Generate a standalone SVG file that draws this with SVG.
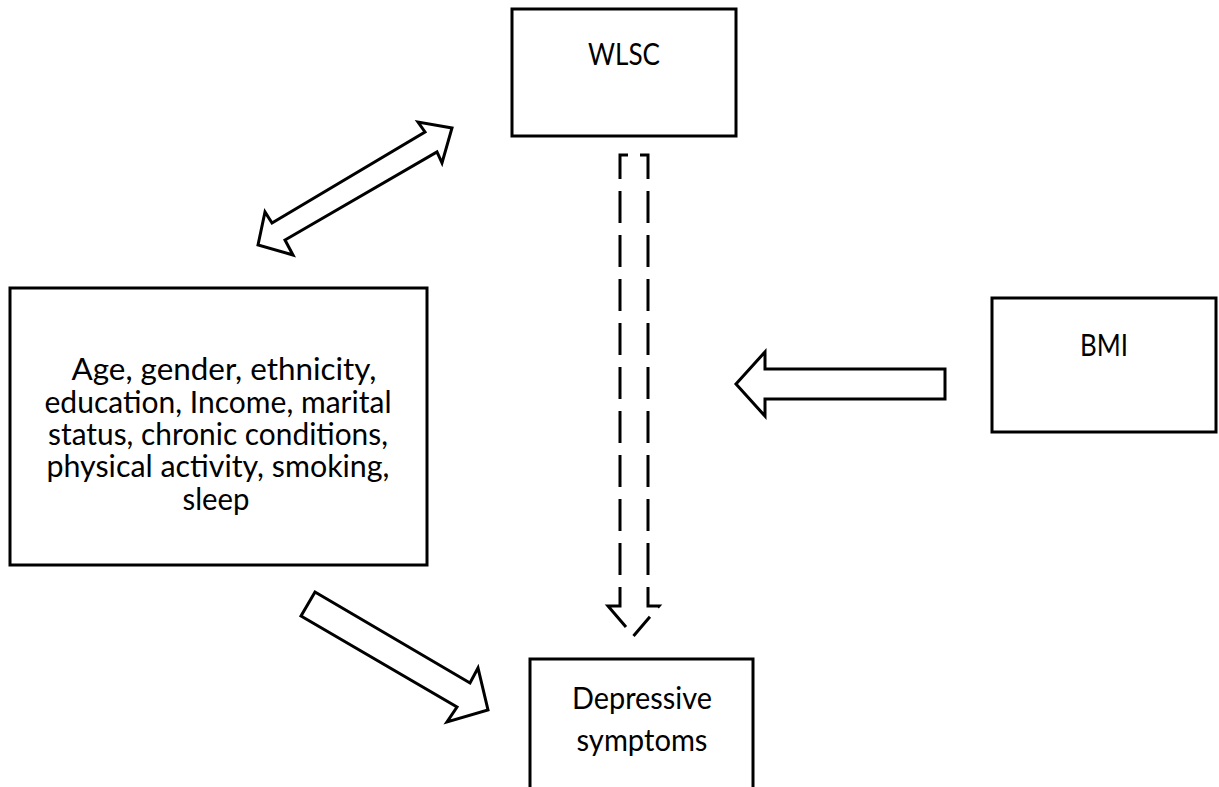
<svg xmlns="http://www.w3.org/2000/svg" width="1219" height="787" viewBox="0 0 1219 787">
  <style>
    .box { fill: #ffffff; stroke: #000000; stroke-width: 3; }
    .label { font-family: Lato, "Liberation Sans", sans-serif; font-size: 30px; fill: #000000; text-anchor: middle; }
    .block { fill: #ffffff; stroke: #000000; stroke-width: 3; stroke-linejoin: miter; }
    .dashed { fill: none; stroke: #000000; stroke-width: 3; stroke-dasharray: 32 12; stroke-dashoffset: 38; stroke-linejoin: miter; }
    .solid { fill: none; stroke: #000000; stroke-width: 3; stroke-linejoin: miter; }
  </style>
  <rect width="1219" height="787" fill="#ffffff"/>

  <g id="wlsc">
    <rect class="box" x="512" y="9" width="224" height="127"/>
    <text class="label" x="624" y="65" textLength="72" lengthAdjust="spacingAndGlyphs">WLSC</text>
  </g>

  <g id="covariates">
    <rect class="box" x="10" y="288" width="417" height="277"/>
    <text class="label" x="224" y="380" textLength="305" lengthAdjust="spacingAndGlyphs">Age, gender, ethnicity,</text>
    <text class="label" x="218" y="413" textLength="347" lengthAdjust="spacingAndGlyphs">education, Income, marital</text>
    <text class="label" x="218" y="445" textLength="340" lengthAdjust="spacingAndGlyphs">status, chronic conditions,</text>
    <text class="label" x="218" y="477" textLength="343" lengthAdjust="spacingAndGlyphs">physical activity, smoking,</text>
    <text class="label" x="216" y="510" textLength="67" lengthAdjust="spacingAndGlyphs">sleep</text>
  </g>

  <g id="bmi">
    <rect class="box" x="992" y="298" width="224" height="134"/>
    <text class="label" x="1104" y="356" textLength="48" lengthAdjust="spacingAndGlyphs">BMI</text>
  </g>

  <g id="depressive">
    <rect class="box" x="530" y="659" width="223" height="140"/>
    <text class="label" x="642" y="709" textLength="140" lengthAdjust="spacingAndGlyphs">Depressive</text>
    <text class="label" x="642" y="751" textLength="131" lengthAdjust="spacingAndGlyphs">symptoms</text>
  </g>

  <g id="connectors">
    <!-- two-way block arrow between covariates and WLSC -->
    <polygon class="block" points="258,245 265,212 272,223 425,132 418,122 452,128 442,163 437,152 285,240 293,255"/>
    <!-- block arrow from BMI -->
    <polygon class="block" points="945,369 765,369 765,352 736,384 765,416 765,399 945,399"/>
    <!-- block arrow from covariates to depressive symptoms -->
    <polygon class="block" points="315,592 470,683 478,668 488,710 447,722 457,707 301,616"/>
    <!-- dashed block arrow from WLSC to depressive symptoms: right half, left half and its last stroke -->
    <path class="dashed" d="M634,155 L648,155 L648,606 L659,606 L633.5,636"/>
    <path class="dashed" d="M634,155 L620,155 L620,587"/>
    <path class="solid" d="M620,587 L620,606 L608,606 L626,627"/>
  </g>
</svg>
